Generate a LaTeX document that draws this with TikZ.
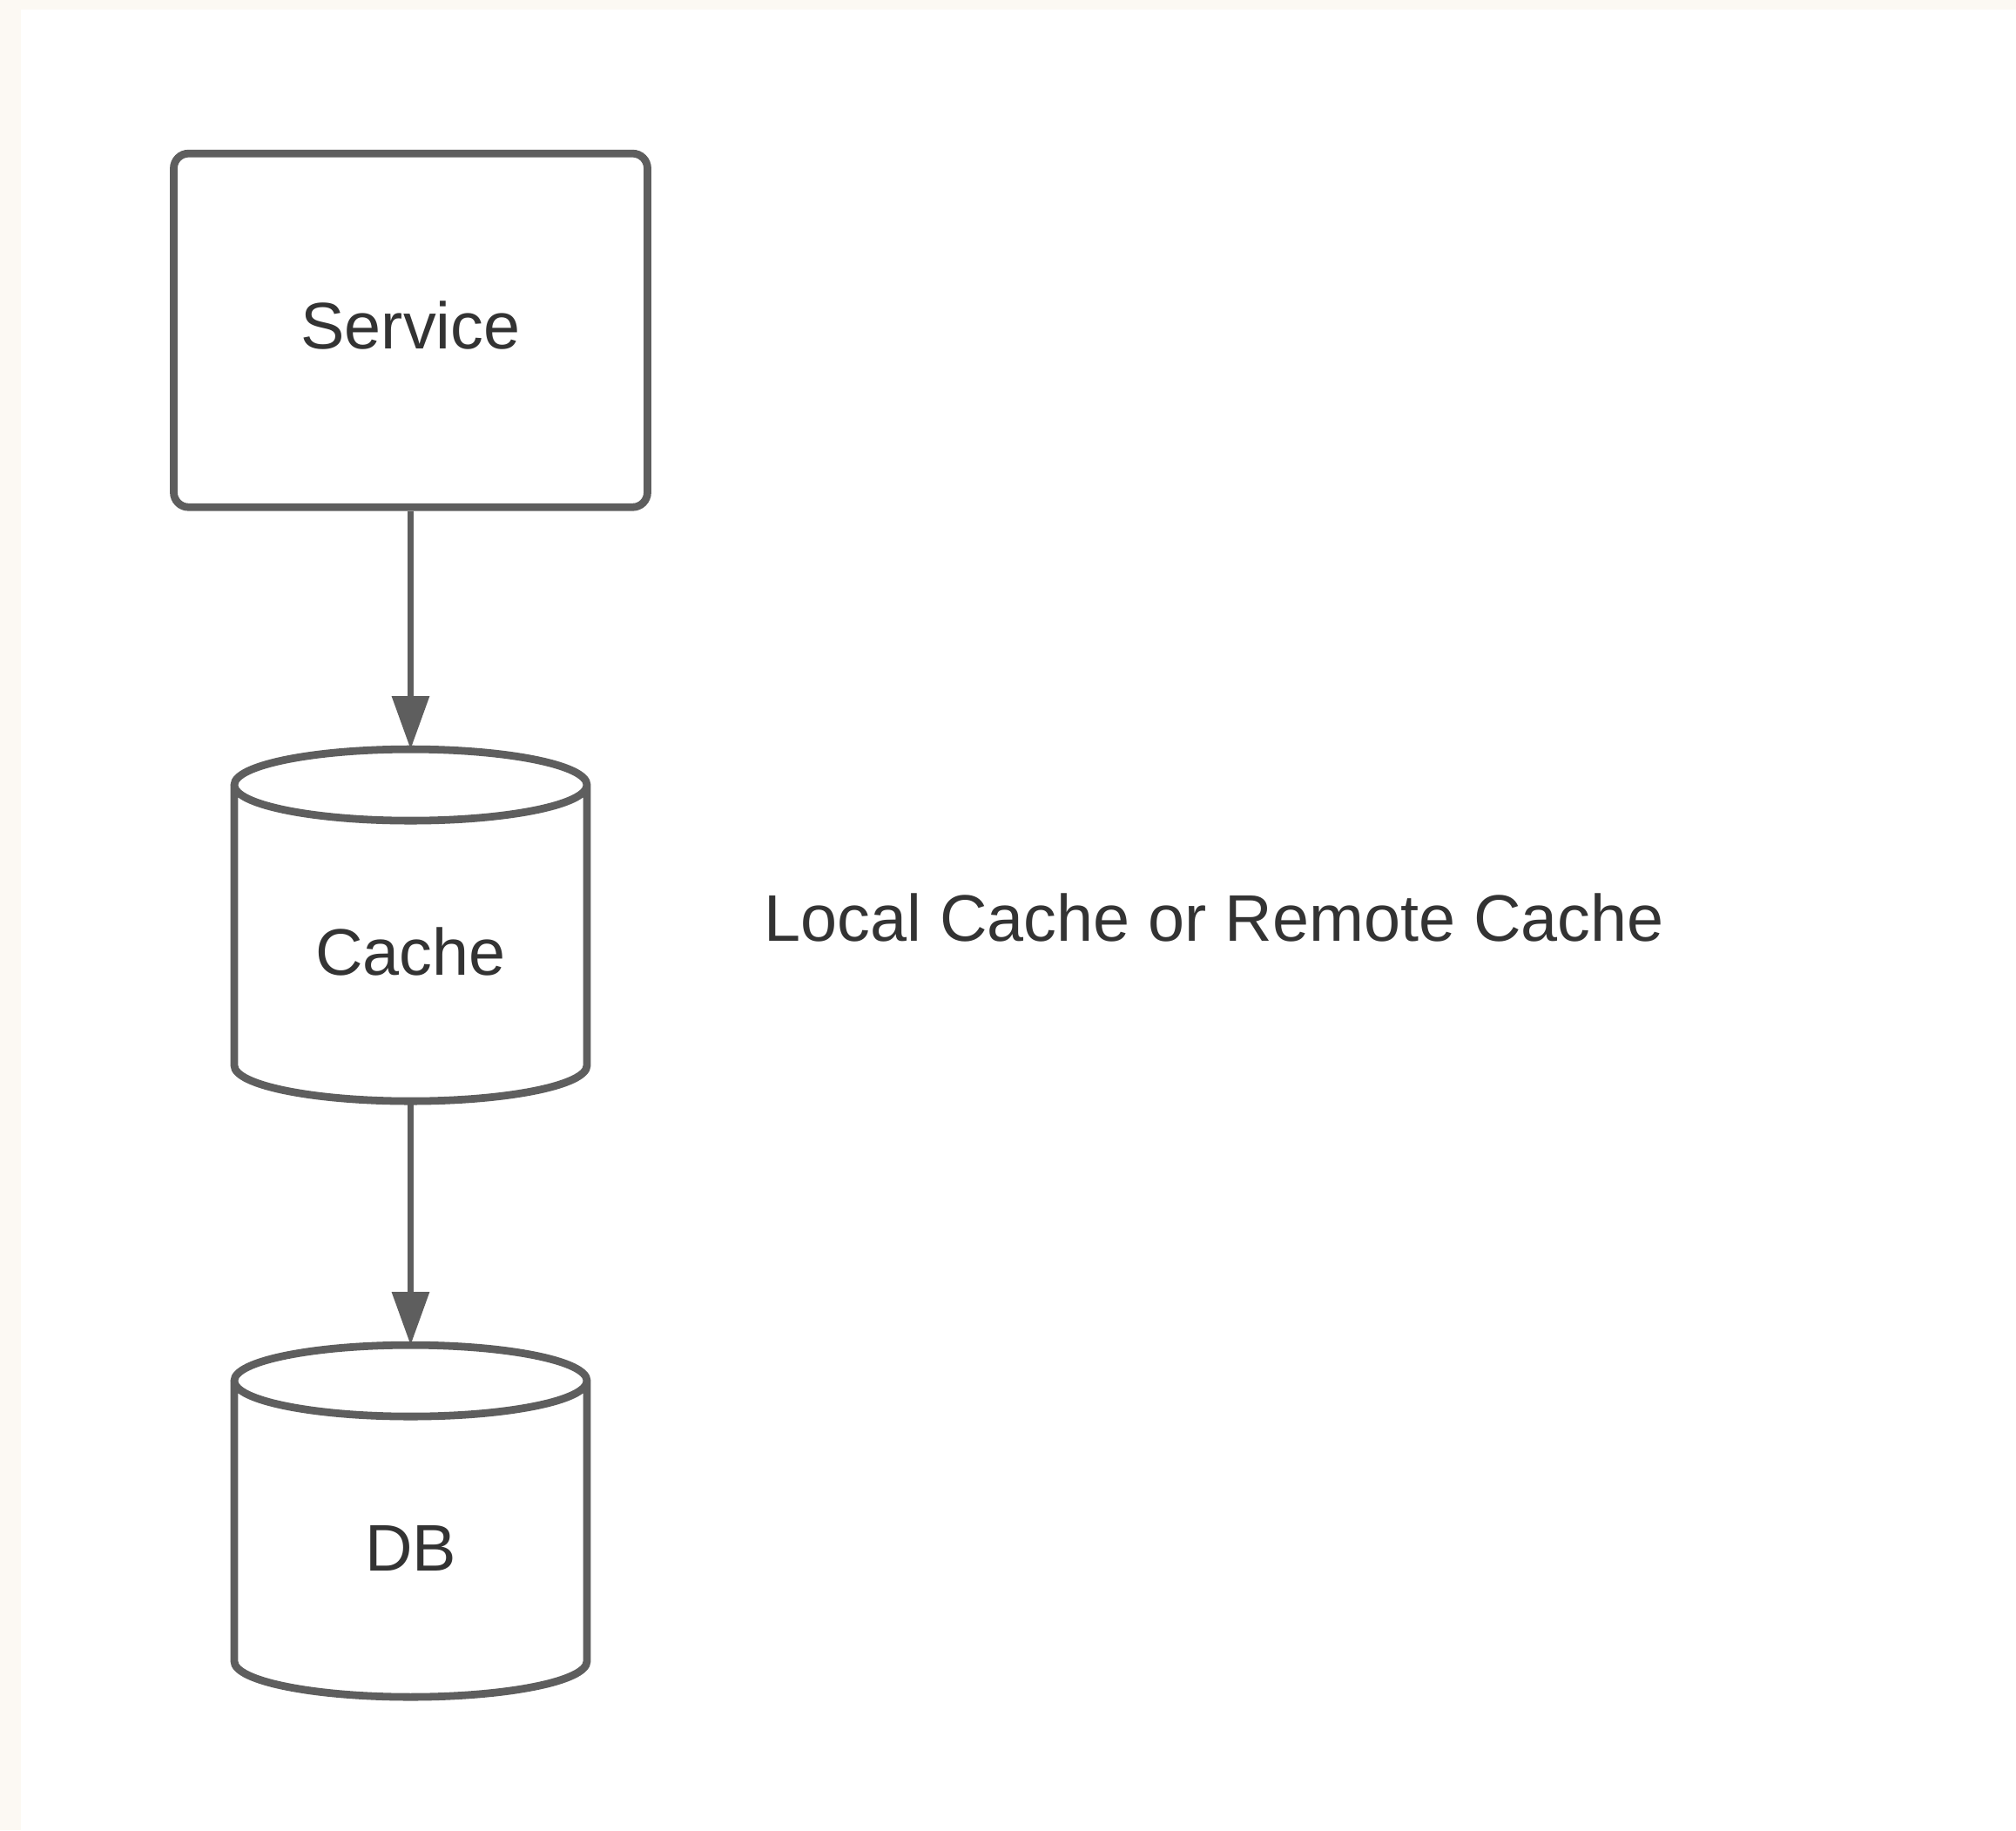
\documentclass[tikz,border=0pt]{standalone}
\usepackage{fontspec}
\setmainfont{Liberation Sans}
\usepackage{tikz}
\usetikzlibrary{positioning,arrows.meta}

\definecolor{paper}{HTML}{FCF9F3}
\definecolor{outline}{HTML}{5E5E5E}
\definecolor{ink}{HTML}{333333}

\tikzset{
  border/.style={draw=outline, line width=2.5pt},
  servicebox/.style={border, rounded corners=0.17cm, minimum width=5.44cm, minimum height=4.06cm, text=ink, text depth=0.12cm},
  store/.style={minimum width=4.05cm, minimum height=4.04cm, outer sep=0pt, text=ink, text height=1.15cm, text depth=0pt},
  flow/.style={draw=outline, line width=1.8pt, -{Triangle[width=0.42cm,length=0.61cm]}},
}

\begin{document}
\begin{tikzpicture}[font=\fontsize{21.5pt}{26pt}\selectfont]
  \useasboundingbox (0,0) rectangle (23.15,21.01);
  \fill[paper] (0,0) rectangle (23.15,21.01);
  \fill[white] (0.24,0) rectangle (23.15,20.90);

  \node[servicebox] (service) at (4.715,17.2175) {Service};
  \node[store, below=2.735cm of service] (cache) {Cache};
  \node[store, below=2.8cm of cache] (db) {DB};
  \node[text=ink, anchor=west, inner sep=0pt] (note) at (8.77,10.48) {Local Cache or Remote Cache};

  % cylinders round the two stores
  \foreach \n in {cache,db} {
    \draw[border] ([yshift=-0.41cm]\n.north west) -- ([yshift=0.41cm]\n.south west)
      arc[start angle=180, end angle=360, x radius=2.025cm, y radius=0.41cm]
      -- ([yshift=-0.41cm]\n.north east)
      arc[start angle=0, end angle=180, x radius=2.025cm, y radius=0.41cm]
      arc[start angle=180, end angle=360, x radius=2.025cm, y radius=0.41cm];
  }

  \draw[flow] (service) -- (cache);
  \draw[flow] (cache) -- (db);
\end{tikzpicture}
\end{document}
